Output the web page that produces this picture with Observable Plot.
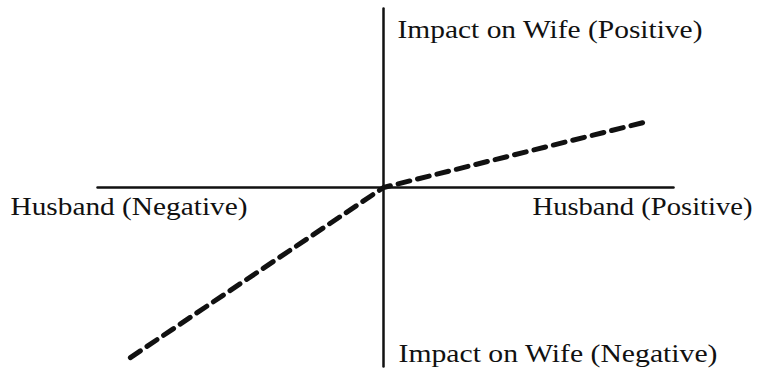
<!DOCTYPE html>
<html>
<head>
<meta charset="utf-8">
<script src="https://cdn.jsdelivr.net/npm/d3@7"></script>
<script src="https://cdn.jsdelivr.net/npm/@observablehq/plot@0.6"></script>
<style>
  html, body { margin: 0; padding: 0; background: #fff; }
  #chart svg { display: block; }
</style>
</head>
<body>
<div id="chart"></div>
<script>
// Axis extents (husband's outcome on x, impact on wife on y)
const xAxisExtent = [-1, 1.014];
const yAxisExtent = [-1, 1];

// Relationship curve: steep on the negative side, shallow on the positive side
const curveX = [-0.885, 0, 0.927];
const curveY = [-0.95, 0, 0.37];

// Axis end labels
const labelText = [
  "Impact on Wife (Positive)",
  "Impact on Wife (Negative)",
  "Husband (Negative)",
  "Husband (Positive)"
];

const curve = curveX.map((x, i) => ({x, y: curveY[i]}));
const hAxis = xAxisExtent.map(x => ({x, y: 0}));
const vAxis = yAxisExtent.map(y => ({x: 0, y}));

// Label placement relative to the axis ends, plus set widths for the wide serif face
const labels = [
  {x: 0, y: yAxisExtent[1], text: labelText[0], dx: 14, dy: 21, w: 305},
  {x: 0, y: yAxisExtent[0], text: labelText[1], dx: 15, dy: -12.5, w: 319},
  {x: xAxisExtent[0], y: 0, text: labelText[2], dx: -87, dy: 19, w: 237},
  {x: xAxisExtent[1], y: 0, text: labelText[3], dx: -141, dy: 19, w: 220}
];

const font = "'Liberation Serif', 'Times New Roman', serif";

const chart = Plot.plot({
  width: 761,
  height: 373,
  margin: 0,
  x: {domain: [-1, 1], range: [97, 669], axis: null},
  y: {domain: [-1, 1], range: [366, 8], axis: null},
  style: {fontFamily: font, background: "#fff"},
  marks: [
    Plot.line(hAxis, {x: "x", y: "y", stroke: "#111", strokeWidth: 2.5}),
    Plot.line(vAxis, {x: "x", y: "y", stroke: "#111", strokeWidth: 2.5}),
    Plot.line(curve, {x: "x", y: "y", stroke: "#111", strokeWidth: 5, strokeDasharray: "12,8"}),
    ...labels.map(d => Plot.text([d], {
      x: "x", y: "y", text: "text",
      textAnchor: "start", dx: d.dx, dy: d.dy,
      fontSize: 25, fill: "#111", lineAnchor: "middle"
    }))
  ]
});

// Stretch each label to its set width
const widthByText = new Map(labels.map(d => [d.text, d.w]));
d3.select(chart).selectAll("text").each(function () {
  const w = widthByText.get(this.textContent);
  if (w) {
    this.setAttribute("textLength", w);
    this.setAttribute("lengthAdjust", "spacingAndGlyphs");
  }
});

document.getElementById("chart").append(chart);
</script>
</body>
</html>
